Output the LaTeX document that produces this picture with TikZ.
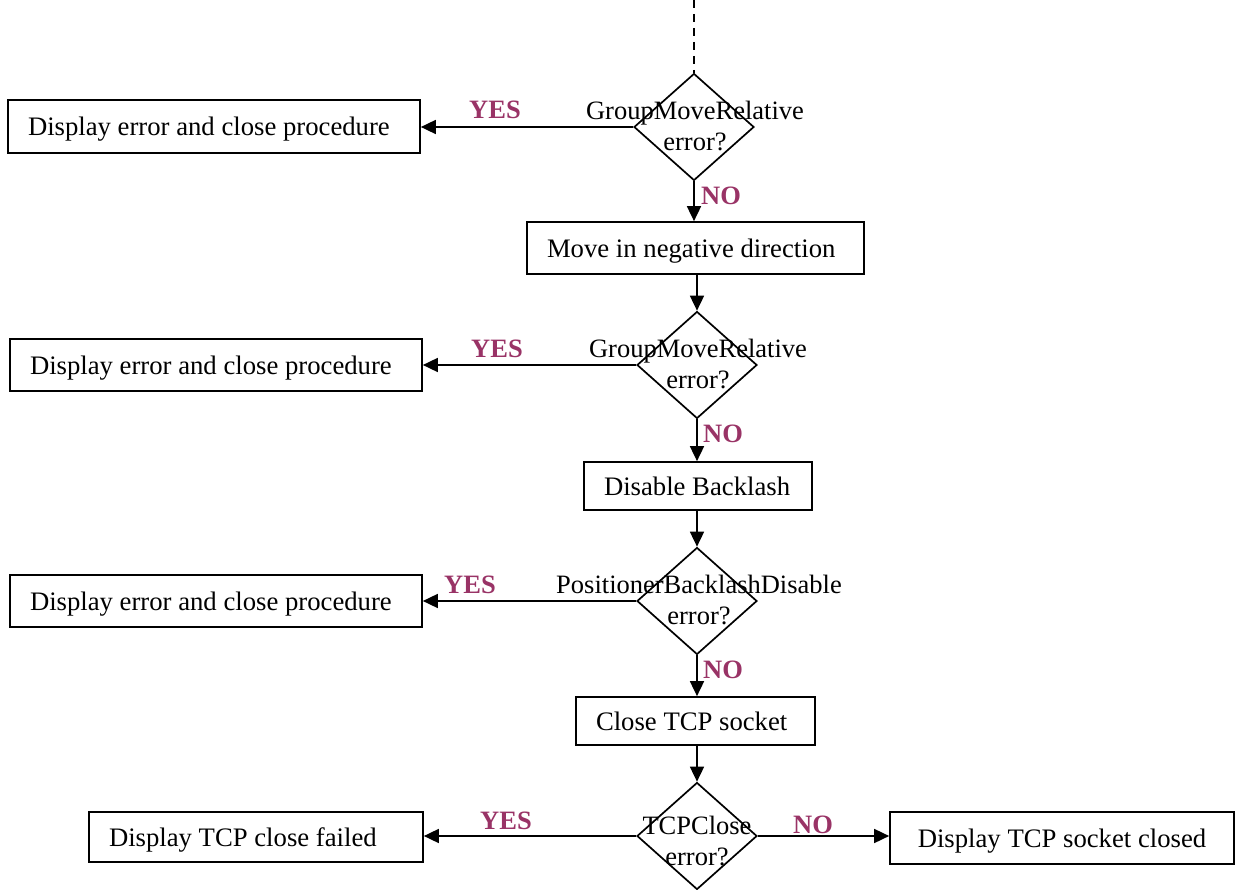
\documentclass[tikz,border=0pt]{standalone}
\usepackage{fontspec}
\setmainfont{Liberation Serif}
\usetikzlibrary{arrows.meta,positioning,shapes.geometric}
\definecolor{FlowPlum}{HTML}{993366}

\begin{document}
\begin{tikzpicture}[
    x=1pt, y=-1pt,
    box/.style={
      draw=black,
      line width=1.7pt,
      fill=white,
      inner ysep=0pt,
      inner xsep=20pt,
      align=flush left,
      text height=21pt,
      text depth=2pt,
      font=\fontsize{26.7}{31}\selectfont
    },
    decision/.style={
      diamond,
      draw=black,
      line width=1.7pt,
      inner sep=0pt,
      minimum width=120pt,
      minimum height=107pt
    },
    qtext/.style={align=center, inner sep=0pt, font=\fontsize{26.5}{31}\selectfont},
    answer/.style={text=FlowPlum, inner sep=0pt, font=\fontsize{26.5}{31}\selectfont\bfseries},
    arrow/.style={-{Triangle[length=15pt,width=14pt]}, line width=1.7pt}
  ]
    \useasboundingbox (0,0) rectangle (1240,890);

    % decisions
    \node[decision] (gmr1) at (694,127) {};
    \node[qtext] at (695,126) {GroupMoveRelative\\error?};
    \node[decision] (gmr2) at (697,365) {};
    \node[qtext] at (698,364) {GroupMoveRelative\\error?};
    \node[decision] (pbd) at (697,601) {};
    \node[qtext] at (699,600) {PositionerBacklashDisable\\error?};
    \node[decision] (tcpc) at (697,836) {};
    \node[qtext] at (697,841) {TCPClose\\error?};

    % main steps
    \node[box, text width=297pt, minimum height=52pt] (move) at (695.5,248) {Move in negative direction};
    \node[box, text width=188pt, minimum height=48pt] (backl) at (698,486) {Disable Backlash};
    \node[box, text width=199pt, minimum height=48pt] (close) at (695.5,721) {Close TCP socket};

    % error exits
    \node[box, text width=372pt, minimum height=53pt] (err1) at (214,126.5) {Display error and close procedure};
    \node[box, text width=372pt, minimum height=52pt] (err2) at (216,365) {Display error and close procedure};
    \node[box, text width=372pt, minimum height=52pt] (err3) at (216,601) {Display error and close procedure};
    \node[box, text width=294pt, minimum height=50pt] (fail) at (256,837) {Display TCP close failed};
    \node[box, text width=304pt, minimum height=52pt, align=flush center] (done) at (1062,838) {Display TCP socket closed};

    \coordinate (entry) at (694,0);
    \draw[line width=1.7pt, dash pattern=on 8pt off 6pt] (entry) -- (gmr1.north);

    \draw[arrow] (gmr1.west) -- (err1.east |- gmr1.west);
    \draw[arrow] (gmr1.south) -- (gmr1.south |- move.north);
    \draw[arrow] (move.south -| gmr2.north) -- (gmr2.north);
    \draw[arrow] (gmr2.west) -- (err2.east |- gmr2.west);
    \draw[arrow] (gmr2.south) -- (gmr2.south |- backl.north);
    \draw[arrow] (backl.south -| pbd.north) -- (pbd.north);
    \draw[arrow] (pbd.west) -- (err3.east |- pbd.west);
    \draw[arrow] (pbd.south) -- (pbd.south |- close.north);
    \draw[arrow] (close.south -| tcpc.north) -- (tcpc.north);
    \draw[arrow] (tcpc.west) -- (fail.east |- tcpc.west);
    \draw[arrow] (tcpc.east) -- (done.west |- tcpc.east);

    % branch labels
    \node[answer] (yes1) at (495,110) {YES};
    \node[answer] (no1) at (721,196) {NO};
    \node[answer] (yes2) at (497,349) {YES};
    \node[answer] (no2) at (723,434) {NO};
    \node[answer] (yes3) at (470,585) {YES};
    \node[answer] (no3) at (723,670) {NO};
    \node[answer] (yes4) at (506,821) {YES};
    \node[answer] (no4) at (813,825) {NO};
  \end{tikzpicture}
\end{document}
